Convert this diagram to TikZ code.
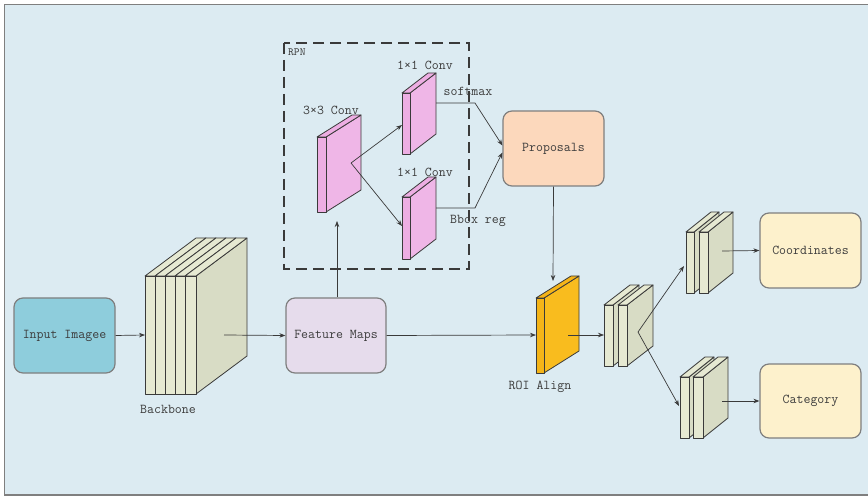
\documentclass[tikz,border=0pt]{standalone}
\usepackage{fontspec}
\setmainfont{Latin Modern Mono}
\usetikzlibrary{arrows.meta}
\definecolor{bgc}{HTML}{DCEBF2}
\definecolor{bordc}{HTML}{7F7F7F}
\definecolor{linec}{HTML}{3A3A3A}
\definecolor{txtc}{HTML}{3C3C3C}
\definecolor{inputc}{HTML}{8ECDDC}
\definecolor{featc}{HTML}{E6DCEC}
\definecolor{propc}{HTML}{FCD8BC}
\definecolor{outc}{HTML}{FDF1CC}
\definecolor{gfront}{HTML}{E6E9D2}
\definecolor{gside}{HTML}{D8DCC5}
\definecolor{pfront}{HTML}{EDAEE3}
\definecolor{pside}{HTML}{EFB6E7}
\definecolor{ofront}{HTML}{F5B418}
\definecolor{oside}{HTML}{F9BC1E}
\newcommand{\myslab}[8]{%
  % x, ytop, w, h, dx, dy, front, side
  \filldraw[slabline,fill=#8] (#1+#3,#2) -- ++(#5,#6) -- ++(0,#4) -- (#1+#3,#2+#4) -- cycle;
  \filldraw[slabline,fill=#7] (#1,#2) -- ++(#5,#6) -- ++(#3,0) -- (#1+#3,#2) -- cycle;
  \filldraw[slabline,fill=#7] (#1,#2) rectangle (#1+#3,#2+#4);
}
\tikzset{
  slabline/.style={draw=linec, line width=0.8pt, line join=round},
  box/.style={draw=bordc, line width=1.2pt, rounded corners=9pt, minimum width=100pt, minimum height=75pt, inner sep=0pt, text=txtc, font=\fontsize{13.5}{15}\selectfont},
  lbl/.style={text=txtc, font=\fontsize{13.5}{15}\selectfont, inner sep=0pt},
  conn/.style={draw=linec, line width=0.7pt},
  arr/.style={conn, -{Stealth[length=6pt,width=4.5pt]}},
}
\begin{document}
\begin{tikzpicture}[x=1pt,y=-1pt]
\useasboundingbox (0,0) rectangle (868,497);
\fill[bgc] (4,4) rectangle (868,495);
\draw[bordc, line width=1.5pt] (868,4.5) -- (4.5,4.5) -- (4.5,495) -- (868,495);

% RPN dashed box
\draw[linec, line width=1.6pt, dash pattern=on 11pt off 6pt] (284,43) rectangle (469,269);
\node[lbl, anchor=west, font=\fontsize{11}{12}\selectfont] (rpn) at (288,52) {RPN};

% Boxes
\node[box, fill=inputc, minimum width=101pt] (input) at (64.5,335.5) {Input Imagee};
\node[box, fill=featc] (feat) at (336,335.5) {Feature Maps};
\node[box, fill=propc, minimum width=101pt] (prop) at (553.5,148.5) {Proposals};
\node[box, fill=outc, minimum width=101pt] (coord) at (810.5,250.5) {Coordinates};
\node[box, fill=outc, minimum width=101pt, minimum height=74pt] (cat) at (810.5,401) {Category};

% Backbone
\myslab{145}{276}{10}{118}{51}{-38}{gfront}{gside}
\myslab{155}{276}{10}{118}{51}{-38}{gfront}{gside}
\myslab{165}{276}{10}{118}{51}{-38}{gfront}{gside}
\myslab{175}{276}{10}{118}{51}{-38}{gfront}{gside}
\myslab{185}{276}{11}{118}{51}{-38}{gfront}{gside}
\node[lbl] (bblbl) at (168,409) {Backbone};
\coordinate (bbin) at (145,335);
\coordinate (bbout) at (224,335);

% RPN slabs
\myslab{317}{137}{9}{75}{35}{-22}{pfront}{pside}
\node[lbl] (c33) at (331,110) {3×3 Conv};
\coordinate (c33bot) at (337,221);
\coordinate (c33out) at (351,163);
\myslab{402}{93}{8}{61}{26}{-20}{pfront}{pside}
\node[lbl] (c11a) at (425,65) {1×1 Conv};
\coordinate (c11ain) at (402,125);
\coordinate (c11aout) at (436,103);
\myslab{402}{197}{8}{62}{26}{-20}{pfront}{pside}
\node[lbl] (c11b) at (425,172) {1×1 Conv};
\coordinate (c11bin) at (402,226);
\coordinate (c11bout) at (436,208);
\node[lbl] (soft) at (468,91) {softmax};
\node[lbl] (bbox) at (478,221) {Bbox reg};

% ROI Align
\myslab{536}{298}{8}{75}{35}{-22}{ofront}{oside}
\node[lbl] (roilbl) at (540,387) {ROI Align};
\coordinate (roitop) at (553,281);
\coordinate (roiin) at (536,335);
\coordinate (roiout) at (568,335);

% middle block
\myslab{604}{305}{9}{61}{26}{-20}{gfront}{gside}
\myslab{618}{305}{9}{61}{26}{-20}{gfront}{gside}
\coordinate (midin) at (604,335);
\coordinate (midout) at (638,332);

% upper block
\myslab{686}{232}{8}{61}{25}{-20}{gfront}{gside}
\myslab{699}{232}{9}{61}{25}{-20}{gfront}{gside}
\coordinate (upin) at (684,266);
\coordinate (upout) at (722,251);

% lower block
\myslab{680}{377}{9}{61}{25}{-20}{gfront}{gside}
\myslab{693}{377}{10}{61}{25}{-20}{gfront}{gside}
\coordinate (loin) at (679,406);
\coordinate (loout) at (722,401);

% connectors
\draw[arr] (input.east) -- (bbin);
\draw[arr] (bbout) -- (feat.west);
\draw[arr] (feat.north -| c33bot) -- (c33bot);
\draw[arr] (c33out) -- (c11ain);
\draw[arr] (c33out) -- (c11bin);
\draw[arr] (c11aout) -- (475,103) -- ([yshift=3pt]prop.west);
\draw[arr] (c11bout) -- (475,208) -- ([yshift=-4pt]prop.west);
\draw[arr] (prop.south) -- (roitop);
\draw[arr] (feat.east) -- (roiin);
\draw[arr] (roiout) -- (midin);
\draw[arr] (midout) -- (upin);
\draw[arr] (midout) -- (loin);
\draw[arr] (upout) -- (coord.west);
\draw[arr] (loout) -- (cat.west);
\end{tikzpicture}
\end{document}
